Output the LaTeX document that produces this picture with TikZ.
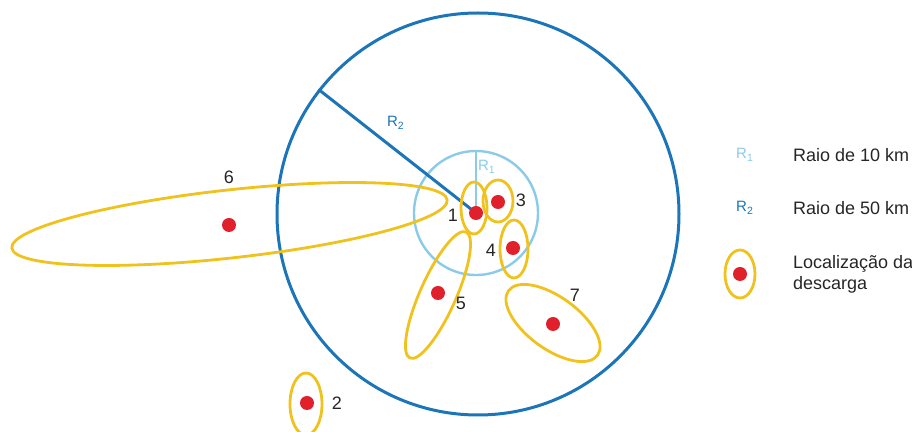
\documentclass[tikz,border=0pt]{standalone}
\usepackage{fontspec}
\setmainfont{Liberation Sans}
\usetikzlibrary{positioning,shapes.geometric}
\definecolor{RaioA}{HTML}{8CCBE8}
\definecolor{RaioB}{HTML}{1C75B8}
\definecolor{ZonaCol}{HTML}{F0C21E}
\definecolor{PontoCol}{HTML}{E0202A}

\begin{document}
\begin{tikzpicture}[x=0.5pt,y=-0.5pt]
  \tikzstyle{zona}=[draw=ZonaCol, line width=1.4pt, ellipse, inner sep=0pt]
  \tikzstyle{ponto}=[circle, fill=PontoCol, inner sep=0pt, minimum size=7pt]
  \tikzstyle{num}=[font=\fontsize{9}{11}\selectfont, text=black!85]
  \tikzstyle{raio}=[font=\fontsize{7.5}{8}\selectfont, inner sep=1pt]
  \useasboundingbox (0,0) rectangle (912,432);
  % radii circles
  \coordinate (c) at (476,213);
  \node[circle, draw=RaioB, line width=1.5pt, minimum size=201pt, inner sep=0pt] (circB) at (478,214) {};
  \node[circle, draw=RaioA, line width=1.2pt, minimum size=62pt, inner sep=0pt] (circA) at (c) {};
  \draw[RaioB, line width=1.5pt] (c) -- (circB.142.6);
  \draw[RaioA, line width=1.2pt] (c) -- (circA.north);
  \node[raio, text=RaioB] (lR2) at (396,123) {R\textsubscript{2}};
  \node[raio, text=RaioA] (lR1) at (487,167) {R\textsubscript{1}};
  % discharge zones
  \node[zona, minimum width=13pt, minimum height=26pt] (z1) at (474,208) {};
  \node[zona, minimum width=15pt, minimum height=21pt] (z3) at (498,201) {};
  \node[zona, minimum width=14pt, minimum height=29pt] (z4) at (514,249) {};
  \node[zona, minimum width=69pt, minimum height=18pt, rotate=66] (z5) at (438,295) {};
  \node[zona, minimum width=219pt, minimum height=34pt, rotate=6.3] (z6) at (229.5,224) {};
  \node[zona, minimum width=55pt, minimum height=26pt, rotate=-36] (z7) at (553,323) {};
  \node[zona, minimum width=16pt, minimum height=31pt] (z2) at (306,404) {};
  % discharge points
  \node[ponto] (p1) at (c) {};
  \node[ponto] (p3) at (498,202) {};
  \node[ponto] (p4) at (513,248) {};
  \node[ponto] (p5) at (438,293) {};
  \node[ponto] (p6) at (229,225) {};
  \node[ponto] (p7) at (553,324) {};
  \node[ponto] (p2) at (307,403) {};
  % numbers
  \node[num] (n1) at (453,215) {1};
  \node[num] (n3) at (521,200) {3};
  \node[num] (n4) at (491,250) {4};
  \node[num] (n5) at (461,303) {5};
  \node[num] (n6) at (229,177) {6};
  \node[num] (n7) at (575,295) {7};
  \node[num] (n2) at (337,403) {2};
  % legend
  \node[raio, text=RaioA] (legR1) at (745,155) {R\textsubscript{1}};
  \node[raio, text=RaioB] (legR2) at (745,208) {R\textsubscript{2}};
  \node[zona, minimum width=15pt, minimum height=24pt] (legZ) at (740,274) {};
  \node[ponto] (legP) at (legZ) {};
  \node[num, anchor=west] (legT1) at (786,155) {Raio de 10 km};
  \node[num, anchor=west] (legT2) at (786,208) {Raio de 50 km};
  \node[num, anchor=west, align=left, font=\fontsize{9}{10.5}\selectfont] (legT3) at (786,274) {Localização da\\descarga};
\end{tikzpicture}
\end{document}
